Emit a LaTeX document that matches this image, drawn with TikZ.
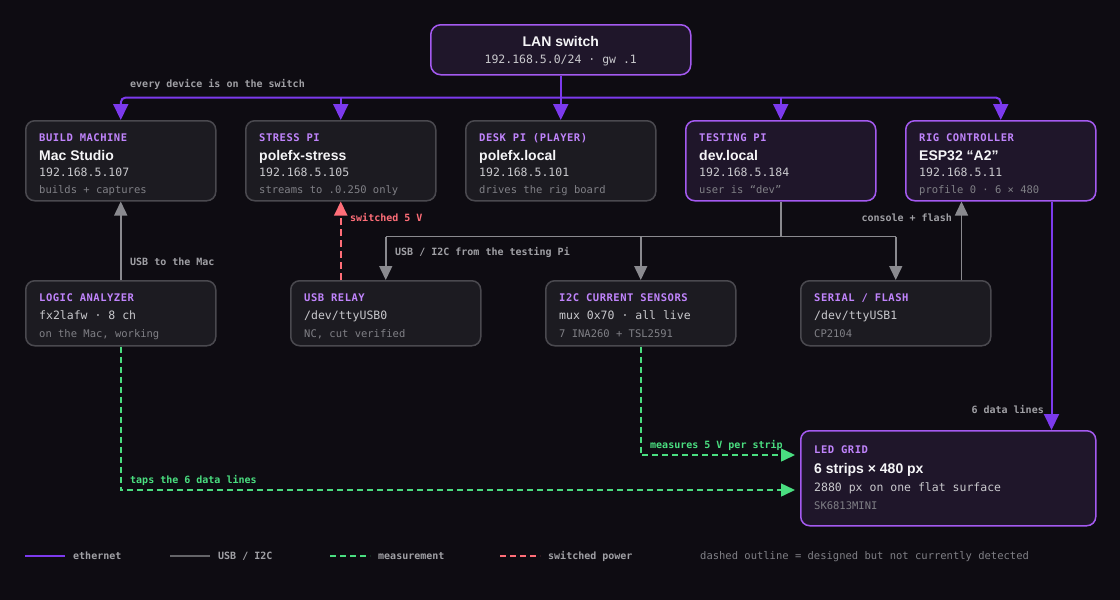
\documentclass[tikz,border=0pt]{standalone}
\usepackage{fontspec}
\setmainfont{Liberation Sans}
\setmonofont{DejaVu Sans Mono}
\newfontfamily\catfont{DejaVu Sans Mono}[LetterSpace=5]
\usetikzlibrary{arrows.meta}
\definecolor{bgc}{RGB}{14,12,18}
\definecolor{gfill}{RGB}{28,27,33}
\definecolor{gborder}{RGB}{74,73,79}
\definecolor{pfill}{RGB}{31,22,42}
\definecolor{pborder}{RGB}{164,90,240}
\definecolor{ethc}{RGB}{124,58,237}
\definecolor{catc}{RGB}{192,132,252}
\definecolor{titlec}{RGB}{245,245,247}
\definecolor{ipc}{RGB}{201,201,205}
\definecolor{notec}{RGB}{128,128,134}
\definecolor{lblc}{RGB}{160,160,165}
\definecolor{usbc}{RGB}{138,138,143}
\definecolor{legusb}{RGB}{100,100,104}
\definecolor{measc}{RGB}{74,222,128}
\definecolor{pwrc}{RGB}{255,110,120}
\tikzset{
  box/.style={rounded corners=9pt, line width=1.5pt, anchor=north west, inner sep=0pt, minimum width=190pt},
  gbox/.style={box, draw=gborder, fill=gfill},
  pbox/.style={box, draw=pborder, fill=pfill},
  cat/.style={anchor=base west, inner sep=0pt, text=catc, font=\catfont\bfseries\fontsize{10.5}{12}\selectfont},
  ttl/.style={anchor=base west, inner sep=0pt, text=titlec, font=\bfseries\fontsize{14}{16}\selectfont},
  ip/.style={anchor=base west, inner sep=0pt, text=ipc, font=\ttfamily\fontsize{11.5}{13}\selectfont},
  note/.style={anchor=base west, inner sep=0pt, text=notec, font=\ttfamily\fontsize{10.5}{12}\selectfont},
  lbl/.style={inner sep=0pt, text=lblc, font=\ttfamily\bfseries\fontsize{10}{12}\selectfont},
  leg/.style={lbl, anchor=base west, font=\ttfamily\bfseries\fontsize{10}{12}\selectfont},
  eth/.style={draw=ethc, line width=2pt},
  etha/.style={eth, -{Triangle[length=16pt,width=15pt]}},
  usbl/.style={draw=usbc, line width=1.5pt},
  usb/.style={usbl, -{Triangle[length=14pt,width=13pt]}},
  meas/.style={draw=measc, line width=1.5pt, dash pattern=on 6pt off 4pt, -{Triangle[length=14pt,width=13pt]}, shorten >=5pt},
  pwr/.style={draw=pwrc, line width=2pt, dash pattern=on 7pt off 4pt, -{Triangle[length=14pt,width=13pt]}},
}
\newcommand\topdev[8]{%
  \node[#2, minimum height=80pt] (#1) at (#3,#4) {};
  \node[cat] (#1-c) at ([shift={(14,21)}]#1.north west) {#5};
  \node[ttl] (#1-t) at ([shift={(14,40)}]#1.north west) {#6};
  \node[ip] (#1-i) at ([shift={(14,56)}]#1.north west) {#7};
  \node[note] (#1-n) at ([shift={(14,73)}]#1.north west) {#8};
}
\newcommand\middev[6]{%
  \node[#2, minimum height=65pt] (#1) at (#3,#4) {};
  \node[cat] (#1-c) at ([shift={(14,21)}]#1.north west) {#5};
  \node[ip] (#1-i) at ([shift={(14,39)}]#1.north west) {\csname mdA#1\endcsname};
  \node[note] (#1-n) at ([shift={(14,57)}]#1.north west) {#6};
}
\begin{document}
\begin{tikzpicture}[x=1pt,y=-1pt]
\fill[bgc] (0,0) rectangle (1120,600);
\useasboundingbox (0,0) rectangle (1120,600);

% LAN switch
\node[pbox, minimum width=260pt, minimum height=50pt, rounded corners=10pt] (switch) at (430,24) {};
\node[anchor=base, inner sep=0pt, text=titlec, font=\bfseries\fontsize{14}{16}\selectfont] (switch-t) at ([shift={(0,22)}]switch.north) {LAN switch};
\node[anchor=base, inner sep=0pt, text=ipc, font=\ttfamily\fontsize{11.5}{13}\selectfont] (switch-i) at ([shift={(0,39)}]switch.north) {192.168.5.0/24 · gw .1};

% top row
\topdev{mac}{gbox}{25}{120}{BUILD MACHINE}{Mac Studio}{192.168.5.107}{builds + captures}
\topdev{stress}{gbox}{245}{120}{STRESS PI}{polefx-stress}{192.168.5.105}{streams to .0.250 only}
\topdev{desk}{gbox}{465}{120}{DESK PI (PLAYER)}{polefx.local}{192.168.5.101}{drives the rig board}
\topdev{testing}{pbox}{685}{120}{TESTING PI}{dev.local}{192.168.5.184}{user is “dev”}
\topdev{rig}{pbox}{905}{120}{RIG CONTROLLER}{ESP32 “A2”}{192.168.5.11}{profile 0 · 6 × 480}

% middle row
\expandafter\def\csname mdAlogic\endcsname{fx2lafw · 8 ch}
\expandafter\def\csname mdArelay\endcsname{/dev/ttyUSB0}
\expandafter\def\csname mdAi2c\endcsname{mux 0x70 · all live}
\expandafter\def\csname mdAserial\endcsname{/dev/ttyUSB1}
\middev{logic}{gbox}{25}{280}{LOGIC ANALYZER}{on the Mac, working}
\middev{relay}{gbox}{290}{280}{USB RELAY}{NC, cut verified}
\middev{i2c}{gbox}{545}{280}{I2C CURRENT SENSORS}{7 INA260 + TSL2591}
\middev{serial}{gbox}{800}{280}{SERIAL / FLASH}{CP2104}

% LED grid
\node[pbox, minimum width=295pt, minimum height=95pt] (led) at (800,430) {};
\node[cat] (led-c) at ([shift={(14,23)}]led.north west) {LED GRID};
\node[ttl] (led-t) at ([shift={(14,43)}]led.north west) {6 strips × 480 px};
\node[ip] (led-i) at ([shift={(14,61)}]led.north west) {2880 px on one flat surface};
\node[note] (led-n) at ([shift={(14,79)}]led.north west) {SK6813MINI};

% ethernet bus
\coordinate (bus) at ([yshift=-22pt]switch.south);
\draw[eth] (switch.south) -- (bus);
\draw[etha, rounded corners=5pt] (bus) -- (mac.north |- bus) -- (mac.north);
\draw[etha, rounded corners=5pt] (bus) -- (rig.north |- bus) -- (rig.north);
\foreach \n in {stress,desk,testing} \draw[etha] (\n.north |- bus) -- (\n.north);
\node[lbl, anchor=base west] (l-bus) at (130,87.5) {every device is on the switch};

% USB to the Mac
\draw[usb] (logic.north) -- (mac.south);
\node[lbl, anchor=base west] (l-usbmac) at (130,265.5) {USB to the Mac};

% switched power
\coordinate (pw) at (stress.south |- relay.north);
\draw[pwr] (pw) -- (stress.south);
\node[lbl, anchor=base west, text=pwrc] (l-pwr) at (350,221.5) {switched 5 V};

% USB / I2C from testing Pi
\coordinate (ub) at ([yshift=-35pt]testing.south);
\draw[usbl] (testing.south) -- (ub);
\draw[usbl] (relay.north |- ub) -- (serial.north |- ub);
\foreach \n in {relay,i2c,serial} \draw[usb] (\n.north |- ub) -- (\n.north);
\node[lbl, anchor=base west] (l-usbi2c) at (395,255.5) {USB / I2C from the testing Pi};

% console + flash
\coordinate (sf) at ([xshift=-30pt]serial.north east);
\draw[usb] (sf) -- (sf |- rig.south);
\node[lbl, anchor=base east] (l-cons) at (952,221.5) {console + flash};

% data lines
\coordinate (rd) at ([xshift=-45pt]rig.south east);
\draw[etha] (rd) -- (rd |- led.north);
\node[lbl, anchor=base east] (l-data) at (1044,413.5) {6 data lines};

% measurement
\coordinate (m1) at ([yshift=-25pt]led.north west);
\coordinate (m2) at ([yshift=-60pt]led.north west);
\draw[meas] (i2c.south) |- (m1);
\draw[meas] (logic.south) |- (m2);
\node[lbl, anchor=base west, text=measc] (l-meas) at (650,448.5) {measures 5 V per strip};
\node[lbl, anchor=base west, text=measc] (l-taps) at (130,483.5) {taps the 6 data lines};

% legend
\draw[eth] (25,556) -- (65,556);
\node[leg] (lg1) at (73,559.5) {ethernet};
\draw[draw=legusb, line width=2pt] (170,556) -- (210,556);
\node[leg] (lg2) at (218,559.5) {USB / I2C};
\draw[draw=measc, line width=2pt, dash pattern=on 6pt off 4pt] (330,556) -- (370,556);
\node[leg] (lg3) at (378,559.5) {measurement};
\draw[draw=pwrc, line width=2pt, dash pattern=on 6pt off 4pt] (500,556) -- (540,556);
\node[leg] (lg4) at (548,559.5) {switched power};
\node[anchor=base west, inner sep=0pt, text=notec, font=\ttfamily\fontsize{10.5}{12}\selectfont] (lg5) at (700,559.5) {dashed outline = designed but not currently detected};
\end{tikzpicture}
\end{document}
